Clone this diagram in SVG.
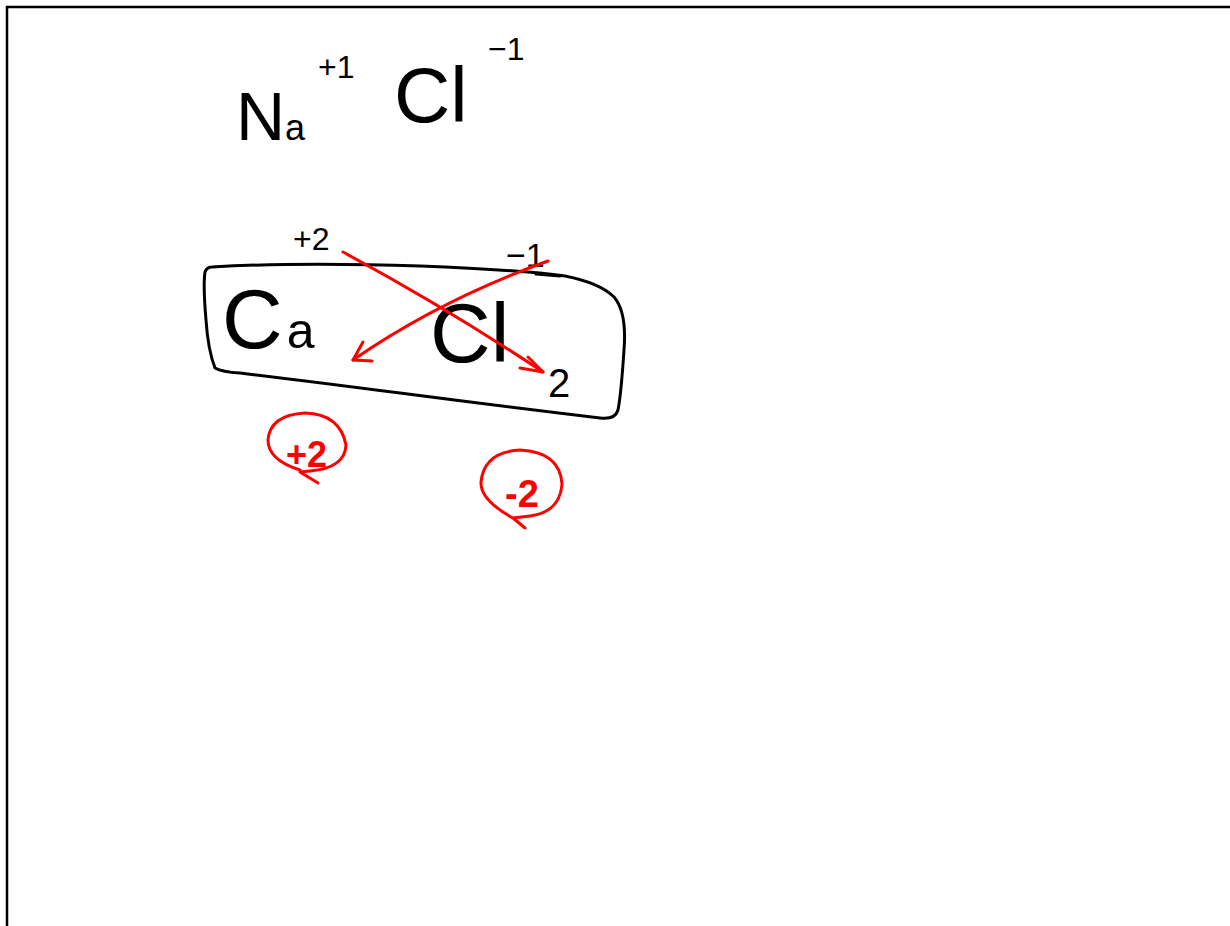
<svg xmlns="http://www.w3.org/2000/svg" width="1230" height="926" viewBox="0 0 1230 926">
<style>
.ink{fill:none;stroke:#000;stroke-width:3;stroke-linecap:round;stroke-linejoin:round}
.red{fill:none;stroke:#ff0000;stroke-width:3;stroke-linecap:round;stroke-linejoin:round}
.t{font-family:"Liberation Sans",Arial,sans-serif;fill:#000}
.tr{font-family:"Liberation Sans",Arial,sans-serif;fill:#ff0000;font-weight:bold}
</style>
<rect width="1230" height="926" fill="#fff"/>
<path d="M7,926 L7,7 L1230,7" fill="none" stroke="#000" stroke-width="2.5"/>
<g id="nacl">
<text class="t" x="236" y="140" font-size="68">N<tspan font-size="36">a</tspan></text>
<text class="t" x="318" y="78" font-size="32">+1</text>
<text class="t" x="394" y="122" font-size="78">Cl</text>
<text class="t" x="488" y="60" font-size="32">−1</text>
</g>
<g id="box">
<path class="ink" d="M212,267 Q300,262 420,266 Q520,270 565,276 Q600,283 614,297 Q627,312 624,350 Q621,395 618,410 Q615,420 600,418 Q500,406 400,393 Q300,380 240,373 Q222,372 215,368 Q208,350 206,320 Q203,285 205,272 Q207,267 212,267 Z"/>
<path class="ink" d="M536,274 L560,276"/>
</g>
<g id="cacl">
<text class="t" x="293" y="250" font-size="32">+2</text>
<text class="t" x="506" y="267" font-size="34">−1</text>
<text class="t" x="222" y="348" font-size="84">C<tspan font-size="50" dx="4">a</tspan></text>
<text class="t" x="430" y="362" font-size="84">Cl</text>
<text class="t" x="548" y="397" font-size="40">2</text>
</g>
<g id="connectors">
<path class="red" d="M343,252 Q450,310 543,372"/>
<path class="red" d="M528,357 L543,372 L520,368"/>
<path class="red" d="M548,261 Q440,300 353,360"/>
<path class="red" d="M363,342 L353,360 L372,361"/>
</g>
<g id="plus2">
<path class="red" d="M300,470 Q268,460 268,440 Q270,415 305,413 Q340,414 346,445 Q345,468 310,471 L300,472 L318,483"/>
<text class="tr" x="286" y="467" font-size="36">+2</text>
</g>
<g id="minus2">
<path class="red" d="M513,518 Q480,500 481,482 Q484,452 520,450 Q560,452 562,484 Q560,512 530,516 L513,518 L525,528"/>
<text class="tr" x="505" y="507" font-size="38">-2</text>
</g>
</svg>
